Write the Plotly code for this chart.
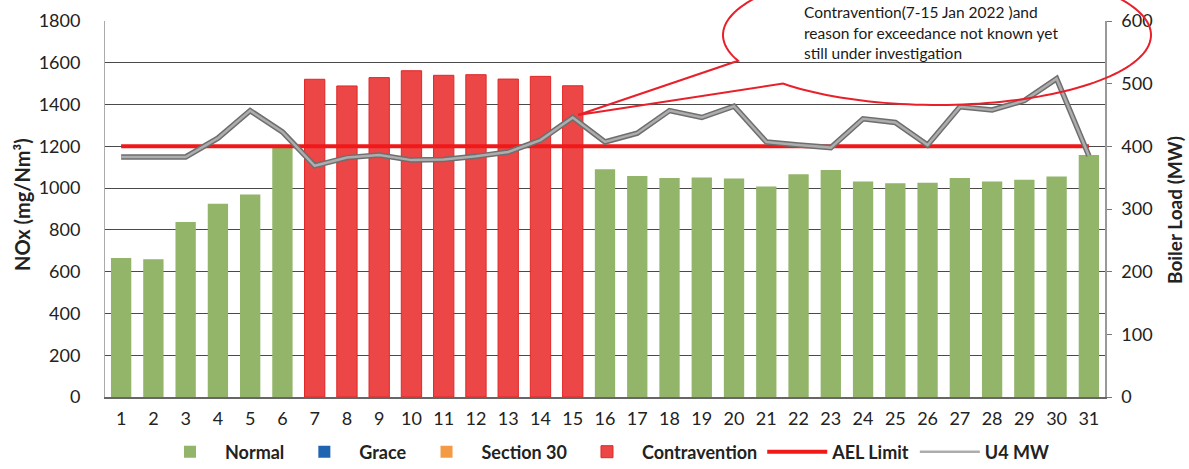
import numpy as np
import plotly.graph_objects as go

days = [1, 2, 3, 4, 5, 6, 7, 8, 9, 10, 11, 12, 13, 14, 15, 16,
        17, 18, 19, 20, 21, 22, 23, 24, 25, 26, 27, 28, 29, 30, 31]
normal = [665, 660, 838, 925, 970, 1195, None, None, None, None, None, None, None, None, None,
          1090, 1058, 1048, 1051, 1046, 1008, 1066, 1087, 1032, 1023, 1026, 1048, 1032, 1040, 1056, 1158]
grace = [None] * 31
section30 = [None] * 31
contravention = [None, None, None, None, None, None, 1521, 1489, 1529, 1562, 1540, 1543, 1522, 1535, 1490,
                 None, None, None, None, None, None, None, None, None, None, None, None, None, None, None, None]
ael_limit = [1200] * 31
u4_mw = [383, 383, 383, 413, 457, 423, 369, 382, 386, 378, 379, 384, 391, 410, 446,
         407, 421, 457, 446, 464, 407, 402, 398, 444, 438, 402, 463, 458, 473, 508, 385]

callout_lines = ["Contravention(7-15 Jan 2022 )and",
                 "reason for exceedance not known yet",
                 "still under investigation"]

W, H = 1189, 469
ML, MR, MT, MB = 105, 84, 21, 72
PW, PH = W - ML - MR, H - MT - MB

GREEN = "#92B56A"
RED = "#EC4646"
BLUE = "#1F64B0"
ORANGE = "#F39A45"
FONT = "Lato"

fig = go.Figure()
fig.add_trace(go.Bar(x=days, y=normal, name="Normal", marker=dict(color=GREEN, line=dict(width=0)), width=0.63))
fig.add_trace(go.Bar(x=days, y=grace, name="Grace", marker=dict(color=BLUE, line=dict(width=0)), width=0.63))
fig.add_trace(go.Bar(x=days, y=section30, name="Section 30", marker=dict(color=ORANGE, line=dict(width=0)), width=0.63))
fig.add_trace(go.Bar(x=days, y=contravention, name="Contravention",
                     marker=dict(color=RED, line=dict(color="#E02828", width=1)), width=0.63))
fig.add_trace(go.Scatter(x=days, y=ael_limit, name="AEL Limit", mode="lines",
                         line=dict(color="#F01818", width=4)))
fig.add_trace(go.Scatter(x=days, y=u4_mw, name="U4 MW", mode="lines", yaxis="y2", showlegend=False,
                         line=dict(color="#6E6E6E", width=5.5), hoverinfo="skip"))
fig.add_trace(go.Scatter(x=days, y=u4_mw, name="U4 MW", mode="lines", yaxis="y2",
                         line=dict(color="#ADADAD", width=2.5)))


def px2paper(px, py):
    return (px - ML) / PW, (MT + PH - py) / PH


# callout bubble (ellipse with tail)
cx, cy, a, b = 937, 35, 214, 70
t = np.radians(np.linspace(158.4, 496.0, 160))
ex = cx + a * np.cos(t)
ey = cy + b * np.sin(t)
pts = [px2paper(x, y) for x, y in zip(ex, ey)]
tip = px2paper(578, 115)
path = "M " + " L ".join(f"{p[0]:.5f},{p[1]:.5f}" for p in pts)
path += f" L {tip[0]:.5f},{tip[1]:.5f} Z"
fig.add_shape(type="path", path=path, xref="paper", yref="paper",
              line=dict(color="#E8202A", width=2), fillcolor="rgba(0,0,0,0)", layer="above")

for i, line in enumerate(callout_lines):
    xp, yp = px2paper(802, 12 + 20.5 * i)
    fig.add_annotation(text=line, x=xp, y=yp, xref="paper", yref="paper", xanchor="left", yanchor="middle",
                       showarrow=False, font=dict(family=FONT, size=15.5, color="#1a1a1a"))

# axis titles
fig.add_annotation(text="<b>NOx (mg/Nm³)</b>", x=(22 - ML) / PW, y=(MT + PH - 205) / PH, xref="paper",
                   yref="paper", xanchor="center", yanchor="middle", textangle=-90, showarrow=False,
                   font=dict(family=FONT, size=20, color="#222"))
fig.add_annotation(text="<b>Boiler Load (MW)</b>", x=(1174 - ML) / PW, y=(MT + PH - 210) / PH, xref="paper",
                   yref="paper", xanchor="center", yanchor="middle", textangle=-90, showarrow=False,
                   font=dict(family=FONT, size=19, color="#222"))

fig.update_layout(
    width=W, height=H,
    margin=dict(l=ML, r=MR, t=MT, b=MB, autoexpand=False),
    paper_bgcolor="white", plot_bgcolor="white",
    barmode="overlay",
    font=dict(family=FONT, size=18, color="#222"),
    xaxis=dict(range=[0.5, 31.5], tickmode="array", tickvals=days, ticktext=[str(d) for d in days],
               showgrid=False, showline=True, linecolor="#666", linewidth=1.5, ticks="",
               zeroline=False, tickfont=dict(size=18), ticklabelstandoff=5, automargin=False),
    yaxis=dict(range=[0, 1800], dtick=200, showgrid=True, gridcolor="#4a4a4a", gridwidth=1,
               showline=True, linecolor="#aaa", linewidth=1, zeroline=False, ticks="",
               tickfont=dict(size=18), ticklabelstandoff=20, automargin=False),
    yaxis2=dict(range=[0, 600], dtick=100, overlaying="y", side="right", showgrid=False,
                showline=True, linecolor="#999", linewidth=1.5, ticks="outside", ticklen=5,
                tickcolor="#777", zeroline=False, tickfont=dict(size=18), ticklabelstandoff=6,
                automargin=False),
    legend=dict(orientation="h", x=0.5, xanchor="center", xref="paper",
                y=1 - 452 / H, yanchor="middle", yref="container",
                font=dict(family=FONT, size=18, color="#222", weight="bold"), traceorder="normal",
                itemwidth=60, bgcolor="rgba(0,0,0,0)"),
    showlegend=True,
)

fig.write_html("out.html")
